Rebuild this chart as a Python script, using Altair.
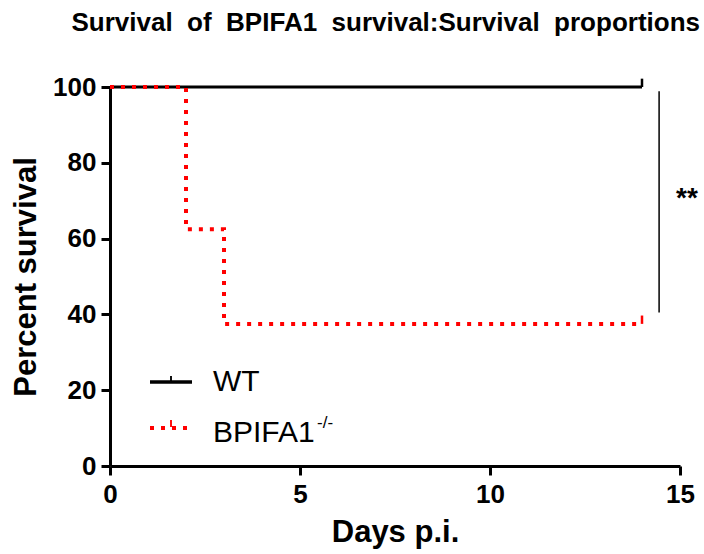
import altair as alt
import pandas as pd

FONT = "Liberation Sans"
NBSP2 = "\u00a0\u00a0"

# Kaplan-Meier steps
wt_days = [0, 14]
wt_surv = [100, 100]
ko_days = [0, 2, 3, 14]
ko_surv = [100, 62.5, 37.5, 37.5]

# censored observations (day, survival)
cens_day = [14, 14]
cens_surv = [100, 37.5]
cens_group = ["WT", "BPIFA1-/-"]

# significance bracket
sig_day = [14.45]
sig_low = [40.5]
sig_high = [98.9]
sig_label = ["**"]

# chart title (GraphPad-style wide word spacing)
title_words = ["Survival", "of", "BPIFA1", "survival:Survival", "proportions"]
title_text = NBSP2.join(title_words)

wt = pd.DataFrame({"day": wt_days, "surv": wt_surv})
ko = pd.DataFrame({"day": ko_days, "surv": ko_surv})
cens = pd.DataFrame({"day": cens_day, "surv": cens_surv, "top": [s + 2.2 for s in cens_surv], "group": cens_group})
sig = pd.DataFrame({"day": sig_day, "lo": sig_low, "hi": sig_high, "label": sig_label,
                    "mid": [(a + b) / 2 for a, b in zip(sig_low, sig_high)]})

xs = alt.Scale(domain=[0, 15], nice=False, zero=False)
ys = alt.Scale(domain=[0, 100], nice=False)

x_axis = alt.Axis(values=[0, 5, 10, 15], title="Days p.i.", grid=False,
                  labelFont=FONT, labelFontSize=26, labelFontWeight="bold", labelColor="black",
                  titleFont=FONT, titleFontSize=31, titleFontWeight="bold", titleColor="black",
                  domainColor="black", domainWidth=3, tickColor="black", tickWidth=3, tickSize=9,
                  labelPadding=6, titlePadding=10, labelFlush=False)
y_axis = alt.Axis(values=[0, 20, 40, 60, 80, 100], title="Percent survival", grid=False,
                  labelFont=FONT, labelFontSize=26, labelFontWeight="bold", labelColor="black",
                  titleFont=FONT, titleFontSize=31, titleFontWeight="bold", titleColor="black",
                  domainColor="black", domainWidth=3, tickColor="black", tickWidth=3, tickSize=9,
                  labelPadding=5, titlePadding=10, labelFlush=False)

wt_line = alt.Chart(wt).mark_line(interpolate="step-after", color="black", strokeWidth=3, clip=False).encode(
    x=alt.X("day:Q", scale=xs, axis=x_axis),
    y=alt.Y("surv:Q", scale=ys, axis=y_axis),
)
ko_line = alt.Chart(ko).mark_line(interpolate="step-after", color="#ff0000", strokeWidth=4,
                                  strokeDash=[4, 7], clip=False).encode(
    x=alt.X("day:Q", scale=xs), y=alt.Y("surv:Q", scale=ys))

cens_marks = alt.Chart(cens).mark_rule(strokeWidth=2.5, clip=False).encode(
    x=alt.X("day:Q", scale=xs), y=alt.Y("surv:Q", scale=ys), y2="top:Q",
    color=alt.Color("group:N", scale=alt.Scale(domain=["WT", "BPIFA1-/-"], range=["black", "#ff0000"]),
                    legend=None))

sig_rule = alt.Chart(sig).mark_rule(color="black", strokeWidth=1.5, clip=False).encode(
    x=alt.X("day:Q", scale=xs), y=alt.Y("lo:Q", scale=ys), y2="hi:Q")
sig_text = alt.Chart(sig).mark_text(font=FONT, fontSize=28, fontWeight="bold", color="black",
                                    align="left", baseline="middle", dx=17, dy=-3, clip=False).encode(
    x=alt.X("day:Q", scale=xs), y=alt.Y("mid:Q", scale=ys), text="label:N")

# title, pixel space above the plot
title_mark = alt.Chart(pd.DataFrame({"t": [title_text]})).mark_text(
    font=FONT, fontSize=26, fontWeight="bold", color="black", align="right", baseline="alphabetic").encode(
    x=alt.value(590), y=alt.value(-56), text="t:N")

# legend, drawn in pixel space
leg_wt_line = alt.Chart(wt).mark_rule(color="black", strokeWidth=3).encode(
    x=alt.value(40), x2=alt.value(82), y=alt.value(295))
leg_wt_tick = alt.Chart(wt).mark_rule(color="black", strokeWidth=1.5).encode(
    x=alt.value(61), y=alt.value(289), y2=alt.value(295))
leg_ko_line = alt.Chart(wt).mark_rule(color="#ff0000", strokeWidth=4, strokeDash=[4, 7]).encode(
    x=alt.value(40), x2=alt.value(84), y=alt.value(341))
leg_ko_tick = alt.Chart(wt).mark_rule(color="#ff0000", strokeWidth=1.5).encode(
    x=alt.value(61), y=alt.value(333), y2=alt.value(340))
leg_txt = alt.Chart(pd.DataFrame({"t": ["WT", "BPIFA1"], "py": [295, 346]})).mark_text(
    font=FONT, fontSize=30, color="black", align="left", baseline="middle").encode(
    x=alt.value(103), y=alt.Y("py:Q", scale=None), text="t:N")
leg_sup = alt.Chart(pd.DataFrame({"t": ["-/-"]})).mark_text(
    font=FONT, fontSize=17, color="black", align="left", baseline="middle").encode(
    x=alt.value(207), y=alt.value(336), text="t:N")

chart = alt.layer(
    wt_line, ko_line, cens_marks, sig_rule, sig_text, title_mark,
    leg_wt_line, leg_wt_tick, leg_ko_line, leg_ko_tick, leg_txt, leg_sup,
).properties(
    width=570, height=379,
    autosize="none",
    background="white",
    padding={"left": 110, "top": 87, "right": 24, "bottom": 88},
).configure_view(stroke=None)

chart.save("out.html", embed_options={"renderer": "svg", "actions": False})
